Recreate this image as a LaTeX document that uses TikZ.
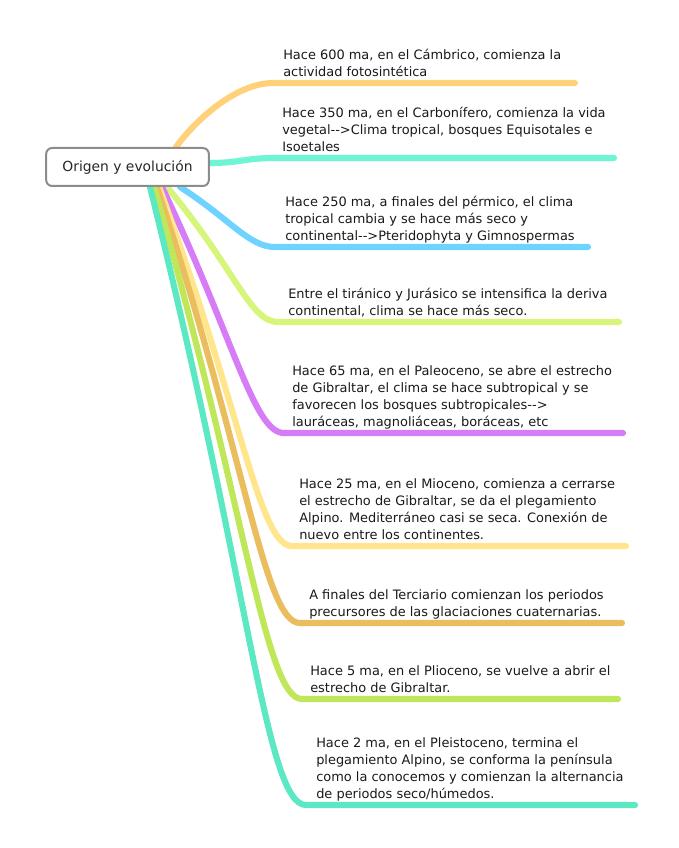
\documentclass[tikz,border=0pt]{standalone}
\usepackage{fontspec}
\newfontfamily\mapfont{DejaVu Sans}
\usetikzlibrary{calc,backgrounds}
\definecolor{brOrange}{RGB}{255,210,122}
\definecolor{brAqua}{RGB}{112,245,212}
\definecolor{brBlue}{RGB}{110,212,255}
\definecolor{brLime}{RGB}{214,245,122}
\definecolor{brViolet}{RGB}{214,124,247}
\definecolor{brSand}{RGB}{255,229,140}
\definecolor{brGold}{RGB}{234,190,94}
\definecolor{brLeaf}{RGB}{192,230,90}
\definecolor{brMint}{RGB}{92,232,194}
\newcommand{\dasharr}{-\kern0pt-\kern0pt>}
\tikzset{
  rootbox/.style={draw=black!45, line width=1.5pt, rounded corners=4.5pt, fill=white, minimum width=122pt, minimum height=28.5pt, font=\mapfont\fontsize{10.4}{12}\selectfont, text=black!85},
  twig/.style={line width=4.6pt, line cap=round},
  note/.style={anchor=south west, inner sep=0pt, align=left, text depth=2.4pt, font=\mapfont\fontsize{9.7}{12.75}\selectfont, text=black!90},
}
\begin{document}
\begin{tikzpicture}[x=0.75pt,y=-0.75pt]
  \useasboundingbox (0,0) rectangle (678,848);
  \node[rootbox] (root) at (127.5,167) {Origen y evoluci\'on};

  \node[note] (n1) at (283,80) {Hace 600 ma, en el C\'ambrico, comienza la\\actividad fotosint\'etica};
  \node[note] (n2) at (282,155) {Hace 350 ma, en el Carbon\'ifero, comienza la vida\\vegetal\dasharr Clima tropical, bosques Equisotales e\\Isoetales};
  \node[note] (n3) at (285,244) {Hace 250 ma, a finales del p\'ermico, el clima\\tropical cambia y se hace m\'as seco y\\continental\dasharr Pteridophyta y Gimnospermas};
  \node[note] (n4) at (288,319) {Entre el tir\'anico y Jur\'asico se intensifica la deriva\\continental, clima se hace m\'as seco.};
  \node[note] (n5) at (292,430) {Hace 65 ma, en el Paleoceno, se abre el estrecho\\de Gibraltar, el clima se hace subtropical y se\\favorecen los bosques subtropicales\dasharr\\laur\'aceas, magnoli\'aceas, bor\'aceas, etc};
  \node[note] (n6) at (299,543) {Hace 25 ma, en el Mioceno, comienza a cerrarse\\el estrecho de Gibraltar, se da el plegamiento\\Alpino. Mediterr\'aneo casi se seca. Conexi\'on de\\nuevo entre los continentes.};
  \node[note] (n7) at (309,620) {A finales del Terciario comienzan los periodos\\precursores de las glaciaciones cuaternarias.};
  \node[note] (n8) at (310,696) {Hace 5 ma, en el Plioceno, se vuelve a abrir el\\estrecho de Gibraltar.};
  \node[note] (n9) at (316,802) {Hace 2 ma, en el Pleistoceno, termina el\\plegamiento Alpino, se conforma la pen\'insula\\como la conocemos y comienzan la alternancia\\de periodos seco/h\'umedos.};

  \coordinate (e1) at (273,83);  \coordinate (f1) at (575,83);
  \coordinate (e2) at (275,158); \coordinate (f2) at (614,158);
  \coordinate (e3) at (275,247); \coordinate (f3) at (588,247);
  \coordinate (e4) at (278,322); \coordinate (f4) at (619,322);
  \coordinate (e5) at (284,433); \coordinate (f5) at (623,433);
  \coordinate (e6) at (292,546); \coordinate (f6) at (626,546);
  \coordinate (e7) at (300,623); \coordinate (f7) at (622,623);
  \coordinate (e8) at (302,699); \coordinate (f8) at (618,699);
  \coordinate (e9) at (306,805); \coordinate (f9) at (635,805);

  \begin{scope}[on background layer]
    \draw[twig,brOrange] ($(root.north)+(48.5,0)$) .. controls +(22,-30) and +(-35,0) .. (e1) -- (f1);
    \draw[twig,brAqua] ($(root.east)+(0,-4)$) .. controls +(30,0) and +(-30,0) .. (e2) -- (f2);
    \draw[twig,brBlue] ($(root.south)+(52.5,0)$) .. controls +(50,32) and +(-26,0) .. (e3) -- (f3);
    \draw[twig,brLime] ($(root.south)+(39.5,0)$) .. controls +(69,83) and +(-28,0) .. (e4) -- (f4);
    \draw[twig,brViolet] ($(root.south)+(34.5,0)$) .. controls +(72,152) and +(-30,0) .. (e5) -- (f5);
    \draw[twig,brSand] ($(root.south)+(31.5,0)$) .. controls +(82,222) and +(-33,0) .. (e6) -- (f6);
    \draw[twig,brGold] ($(root.south)+(29.5,0)$) .. controls +(89,270) and +(-36,0) .. (e7) -- (f7);
    \draw[twig,brLeaf] ($(root.south)+(26.5,0)$) .. controls +(91,317) and +(-37,0) .. (e8) -- (f8);
    \draw[twig,brMint] ($(root.south)+(22.5,0)$) .. controls +(100,400) and +(-40,0) .. (e9) -- (f9);
  \end{scope}
\end{tikzpicture}
\end{document}
